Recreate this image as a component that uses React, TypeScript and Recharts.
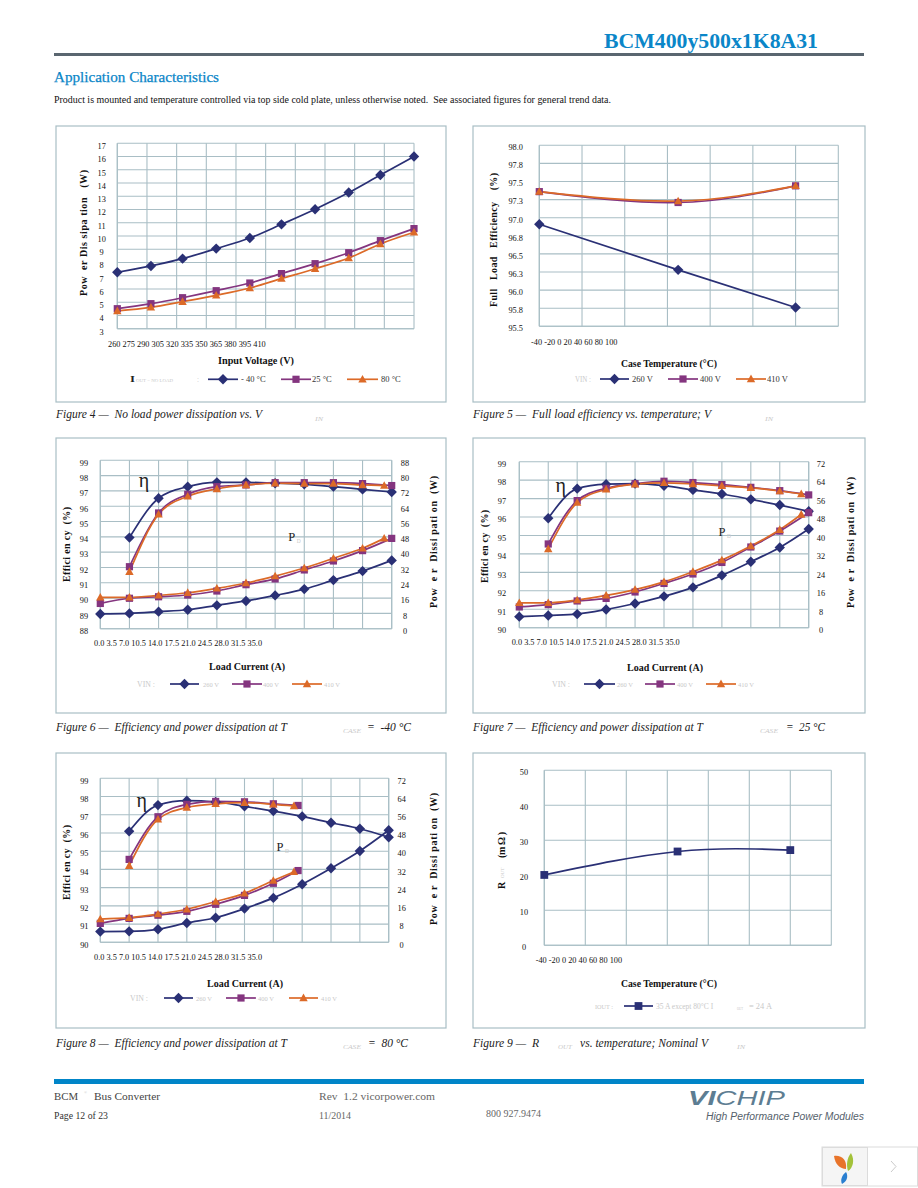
import { CartesianGrid, Legend, Line, LineChart, XAxis, YAxis } from 'recharts';

// ---------------------------------------------------------------------------
// Data
// ---------------------------------------------------------------------------

const inputVoltage = [260, 277, 293, 310, 327, 343, 360, 377, 393, 410];
const voltageTicks = [260, 275, 290, 305, 320, 335, 350, 365, 380, 395, 410];
const fig4Cold = [7.26, 7.74, 8.29, 9.05, 9.85, 10.88, 12.02, 13.28, 14.61, 16.0];
const fig4Room = [4.51, 4.89, 5.34, 5.87, 6.45, 7.16, 7.91, 8.74, 9.65, 10.56];
const fig4Hot = [4.34, 4.61, 5.04, 5.52, 6.07, 6.78, 7.53, 8.34, 9.4, 10.28];
const fig4YTicks = [3, 4, 5, 6, 7, 8, 9, 10, 11, 12, 13, 14, 15, 16, 17];

const caseTemp = [-40, 25, 80];
const tempTicks = [-40, -20, 0, 20, 40, 60, 80, 100];
const fig5Low = [96.91, 96.28, 95.76];
const fig5Nom = [97.36, 97.21, 97.44];
const fig5High = [97.36, 97.23, 97.44];
const fig5YTicks = [95.5, 95.75, 96, 96.25, 96.5, 96.75, 97, 97.25, 97.5, 97.75, 98];

const loadTicks = [0, 3.5, 7, 10.5, 14, 17.5, 21, 24.5, 28, 31.5, 35];
const loadFrom7 = loadTicks.slice(1);

const fig6EffLow = [93.95, 96.52, 97.28, 97.56, 97.56, 97.5, 97.43, 97.28, 97.1, 96.93];
const fig6EffNom = [92.05, 95.56, 96.78, 97.28, 97.39, 97.54, 97.54, 97.54, 97.48, 97.35];
const fig6EffHigh = [91.72, 95.47, 96.65, 97.13, 97.39, 97.5, 97.48, 97.48, 97.39, 97.35];
const fig6PdLow = [7.7, 8, 8.9, 9.9, 12.2, 14.5, 17.4, 20.7, 25.4, 30.1, 35.7];
const fig6PdNom = [13.2, 15.9, 16.7, 17.6, 19.7, 23, 26, 30.7, 35.4, 40.8, 47.2];
const fig6PdHigh = [16.4, 16.4, 17.4, 18.8, 21.1, 23.9, 27.5, 31.7, 36.8, 42, 47.2];
const fig6EffTicks = [88, 89, 90, 91, 92, 93, 94, 95, 96, 97, 98, 99];
const fig6PdTicks = [0, 8, 16, 24, 32, 40, 48, 56, 64, 72, 80, 88];

const fig7EffLow = [95.93, 97.54, 97.78, 97.81, 97.7, 97.47, 97.25, 96.96, 96.65, 96.31];
const fig7EffNom = [94.54, 96.89, 97.56, 97.81, 97.94, 97.87, 97.76, 97.61, 97.43, 97.2];
const fig7EffHigh = [94.27, 96.78, 97.5, 97.78, 97.85, 97.79, 97.69, 97.58, 97.41, 97.25];
const fig7PdLow = [4.8, 5.3, 5.9, 7.9, 10.5, 13.6, 17.5, 22.7, 28.6, 34.8, 42.8];
const fig7PdNom = [9, 10, 11.6, 12.7, 15.5, 19.2, 23.3, 28.3, 35, 41.9, 49.9];
const fig7PdHigh = [10.8, 10.8, 12, 14, 16.5, 19.9, 24.3, 29.3, 35.4, 42.5, 49.1];
const effTicks = [90, 91, 92, 93, 94, 95, 96, 97, 98, 99];
const pdTicks = [0, 8, 16, 24, 32, 40, 48, 56, 64, 72];

const fig8EffLow = [96.09, 97.53, 97.77, 97.7, 97.46, 97.2, 96.91, 96.56, 96.23, 95.76];
const fig8EffNom = [94.55, 96.89, 97.57, 97.73, 97.71, 97.6, 97.51];
const fig8EffHigh = [94.2, 96.75, 97.4, 97.6, 97.66, 97.57, 97.48];
const fig8PdLow = [4.7, 4.8, 5.7, 8.5, 10.8, 14.8, 19.5, 25.5, 32.5, 40.1, 49.2];
const fig8PdNom = [8.3, 10.5, 11.9, 13.6, 16.7, 20.6, 25.9, 31.5];
const fig8PdHigh = [10.2, 10.8, 12.4, 14.5, 17.9, 21.5, 27.1, 30.9];
const fig8LoadNomEff = [3.5, 7, 10.5, 14, 17.5, 21, 24];
const fig8LoadHighEff = [3.5, 7, 10.5, 14, 17.5, 21, 23.5];
const fig8LoadNomPd = [0, 3.5, 7, 10.5, 14, 17.5, 21, 24];
const fig8LoadHighPd = [0, 3.5, 7, 10.5, 14, 17.5, 21, 23.5];

const fig9Rout = [20.1, 26.8, 27.2];
const fig9YTicks = [0, 10, 20, 30, 40, 50];

// last 410 V point of figures 6 and 7 stops just short of 35 A
const loadHighEff = [3.5, 7, 10.5, 14, 17.5, 21, 24.5, 28, 31.5, 34.1];
const loadHighPd = [0, 3.5, 7, 10.5, 14, 17.5, 21, 24.5, 28, 31.5, 34.1];

// ---------------------------------------------------------------------------
// Styles
// ---------------------------------------------------------------------------

const SERIF = '"Liberation Serif", serif';
const NAVY = '#2a3075';
const PURPLE = '#84357f';
const ORANGE = '#dc6a28';
const GRID = '#a9bec5';
const BLUE = '#0a86c8';
const PALE = '#c9c9c9';

type Shape = 'diamond' | 'square' | 'triangle';

function markPath(shape: Shape, cx: number, cy: number, big = false) {
  if (shape === 'diamond') {
    const r = 5.2;
    return `M${cx} ${cy - r}L${cx + r} ${cy}L${cx} ${cy + r}L${cx - r} ${cy}Z`;
  }
  if (shape === 'square') {
    const r = big ? 3.9 : 3.6;
    return `M${cx - r} ${cy - r}H${cx + r}V${cy + r}H${cx - r}Z`;
  }
  return `M${cx} ${cy - 4.4}L${cx + 4.2} ${cy + 3.2}H${cx - 4.2}Z`;
}

const zip = (xs: number[], ys: number[]) => xs.map((x, i) => ({ x, y: ys[i] }));

// width of a string in em, Liberation Serif digits
function emWidth(s: string) {
  let w = 0;
  for (const c of s) w += c >= '0' && c <= '9' ? 0.5 : c === '-' ? 0.333 : 0.25;
  return w;
}

// ---------------------------------------------------------------------------
// One figure
// ---------------------------------------------------------------------------

type Series = {
  name: string;
  color: string;
  shape: Shape;
  xs: number[];
  ys: number[];
  axis?: string;
  hideLegend?: boolean;
  big?: boolean;
};

type FigureProps = {
  frame: number[];
  plot: number[];
  xTicks: number[];
  xLabels: string[];
  xStart: number;
  xLabelY: number;
  yDomain: number[];
  yTicks: number[];
  yLabelX: number;
  yFormat?: (v: number) => string;
  yShift?: number;
  right?: { domain: number[]; ticks: number[]; labelX: number };
  series: Series[];
  curve?: 'monotone' | 'natural';
  legendY: number;
  legendSlots: number[][];
  legendColor: string;
  legendSize: number;
};

const TICK_FONT = 8.3;
const LINE_W = 1.7;

function Figure(p: FigureProps) {
  const [fx, fy, fw, fh] = p.frame;
  const [l, t, r, b] = p.plot;
  const shift = p.yShift ?? 2.5;
  const yTick = (labelX: number, fmt: (v: number) => string) => (props: any) => (
    <text
      key={props.index}
      x={labelX - fx}
      y={props.y + shift + 2.8}
      textAnchor="middle"
      fontFamily={SERIF}
      fontSize={TICK_FONT}
      fill="#111"
    >
      {fmt(props.payload.value)}
    </text>
  );
  const xTick = (props: any) => {
    const i = p.xTicks.indexOf(props.payload.value);
    const before = p.xLabels.slice(0, i).join(' ') + (i > 0 ? ' ' : '');
    return (
      <text
        key={props.index}
        x={p.xStart - fx + emWidth(before) * TICK_FONT}
        y={p.xLabelY - fy + 2.8}
        fontFamily={SERIF}
        fontSize={TICK_FONT}
        fill="#111"
      >
        {p.xLabels[i]}
      </text>
    );
  };
  const fmt = p.yFormat ?? ((v: number) => String(v));

  return (
    <div style={{ position: 'absolute', left: fx, top: fy }}>
      <LineChart
        width={fw}
        height={fh}
        margin={{
          left: l - fx - 20,
          top: t - fy,
          right: fx + fw - r - (p.right ? 20 : 0),
          bottom: fy + fh - b - 20,
        }}
      >
        <CartesianGrid yAxisId="left" stroke={GRID} strokeWidth={1.1} />
        <XAxis
          dataKey="x"
          type="number"
          domain={[p.xTicks[0], p.xTicks[p.xTicks.length - 1]]}
          ticks={p.xTicks}
          interval={0}
          height={20}
          tickLine={false}
          axisLine={{ stroke: GRID, strokeWidth: 1.1 }}
          tick={xTick}
        />
        <YAxis
          yAxisId="left"
          width={20}
          domain={p.yDomain}
          ticks={p.yTicks}
          interval={0}
          tickLine={false}
          axisLine={{ stroke: GRID, strokeWidth: 1.1 }}
          tick={yTick(p.yLabelX, fmt)}
        />
        {p.right && (
          <YAxis
            yAxisId="right"
            orientation="right"
            width={20}
            domain={p.right.domain}
            ticks={p.right.ticks}
            interval={0}
            tickLine={false}
            axisLine={{ stroke: GRID, strokeWidth: 1.1 }}
            tick={yTick(p.right.labelX, fmt)}
          />
        )}
        {p.series.map((s, i) => (
          <Line
            key={i}
            yAxisId={s.axis ?? 'left'}
            data={zip(s.xs, s.ys)}
            dataKey="y"
            name={s.name}
            type={p.curve ?? 'monotone'}
            stroke={s.color}
            strokeWidth={LINE_W}
            isAnimationActive={false}
            legendType={s.hideLegend ? 'none' : 'line'}
            dot={(d: any) => (
              <path key={d.index} d={markPath(s.shape, d.cx, d.cy, s.big)} fill={s.color} />
            )}
          />
        ))}
        <Legend
          wrapperStyle={{ position: 'absolute', left: 0, top: 0, width: 0, height: 0, overflow: 'visible' }}
          content={() => {
            const shown = p.series.filter((s) => !s.hideLegend);
            const y = p.legendY - fy;
            return (
              <svg width={1} height={1} style={{ position: 'absolute', left: 0, top: 0, overflow: 'visible' }}>
                {shown.map((s, i) => {
                  const [x0, x1, tx] = p.legendSlots[i];
                  return (
                    <g key={s.name}>
                      <line x1={x0 - fx} x2={x1 - fx} y1={y} y2={y} stroke={s.color} strokeWidth={LINE_W} />
                      <path d={markPath(s.shape, (x0 + x1) / 2 - fx, y, s.big)} fill={s.color} />
                      <text
                        x={tx - fx}
                        y={y + 2.8}
                        fontFamily={SERIF}
                        fontSize={p.legendSize}
                        fill={p.legendColor}
                      >
                        {s.name}
                      </text>
                    </g>
                  );
                })}
              </svg>
            );
          }}
        />
      </LineChart>
    </div>
  );
}

// ---------------------------------------------------------------------------
// Page furniture
// ---------------------------------------------------------------------------

function T({ x, y, w, size = 10, ...rest }: any) {
  return (
    <text
      x={x}
      y={y}
      fontSize={size}
      fontFamily={SERIF}
      textLength={w}
      lengthAdjust="spacingAndGlyphs"
      style={{ whiteSpace: 'pre' }}
      {...rest}
    />
  );
}

// rotated text running bottom to top between y0 and y1
function V({ x, y0, y1, size = 10, ...rest }: any) {
  const bx = x + size * 0.33;
  return (
    <text
      transform={`rotate(-90 ${bx} ${y1})`}
      x={bx}
      y={y1}
      fontSize={size}
      fontFamily={SERIF}
      fontWeight="bold"
      textLength={y1 - y0}
      lengthAdjust="spacing"
      fill="#111"
      style={{ whiteSpace: 'pre' }}
      {...rest}
    />
  );
}

const frames = [
  [56, 126, 390, 276],
  [473, 126, 392, 276],
  [56, 438, 390, 275],
  [473, 438, 392, 275],
  [56, 753, 390, 275],
  [473, 753, 392, 275],
];

const loadLabels = loadTicks.map((v) => v.toFixed(1));

function Page() {
  return (
    <svg width={918} height={1188} style={{ position: 'absolute', left: 0, top: 0 }}>
      <T x={604} y={48} w={214} size={21} fontWeight="bold" fill={BLUE}>BCM400y500x1K8A31</T>
      <rect x={54} y={53} width={810} height={3} fill="#5a6670" />
      <T x={54} y={82} w={165} size={14.5} fill={BLUE} stroke={BLUE} strokeWidth={0.25}>Application Characteristics</T>
      <T x={54} y={103} w={557} size={9.5} fill="#111">
        Product is mounted and temperature controlled via top side cold plate, unless otherwise noted.  See associated figures for general trend data.
      </T>

      {frames.map((f, i) => (
        <rect key={i} x={f[0]} y={f[1]} width={f[2]} height={f[3]} fill="none" stroke={GRID} strokeWidth={1.2} />
      ))}

      {/* figure 4 text */}
      <V x={84} y0={170} y1={296} size={10}>Pow  er Dis sipa tion   (W)</V>
      <T x={218} y={364} w={76} size={10} fontWeight="bold" fill="#111">Input Voltage (V)</T>
      <T x={130} y={382} w={5} size={9} fontWeight="bold" fill="#222">I</T>
      <T x={136} y={382} w={37} size={4.5} fill={PALE}>OUT = NO LOAD</T>
      <T x={197} y={382} w={2} size={9} fill={PALE}>:</T>
      <T x={56} y={418} w={206} size={11.5} fontStyle="italic" fill="#222">Figure 4 —  No load power dissipation vs. V</T>
      <T x={315} y={421} w={8} size={6} fontStyle="italic" fill={PALE}>IN</T>

      {/* figure 5 text */}
      <V x={494} y0={173} y1={307} size={10}>Full   Load   Efficiency    (%)</V>
      <T x={621} y={367} w={96} size={10} fontWeight="bold" fill="#111">Case Temperature (°C)</T>
      <T x={575} y={382} w={16} size={9} fill={PALE}>VIN :</T>
      <T x={473} y={418} w={238} size={11.5} fontStyle="italic" fill="#222">Figure 5 —  Full load efficiency vs. temperature; V</T>
      <T x={765} y={421} w={8} size={6} fontStyle="italic" fill={PALE}>IN</T>

      {/* figure 6 text */}
      <V x={66.7} y0={507} y1={582} size={10}>Effici en cy  (%)</V>
      <V x={434} y0={476} y1={608} size={10}>Pow  e r  Dissi pati on  (W)</V>
      <T x={209} y={670} w={76} size={10} fontWeight="bold" fill="#111">Load Current (A)</T>
      <T x={137} y={687} w={18} size={8} fill={PALE}>VIN :</T>
      <T x={56} y={731} w={231} size={11.5} fontStyle="italic" fill="#222">Figure 6 —  Efficiency and power dissipation at T</T>
      <T x={343} y={733} w={18} size={6} fontStyle="italic" fill={PALE}>CASE</T>
      <T x={367} y={731} w={44} size={11.5} fontStyle="italic" fill="#222">=  -40 °C</T>

      {/* figure 7 text */}
      <V x={485} y0={510} y1={583} size={10}>Effici en cy  (%)</V>
      <V x={851} y0={477} y1={608} size={10}>Pow  e r  Dissi pati on  (W)</V>
      <T x={627} y={671} w={76} size={10} fontWeight="bold" fill="#111">Load Current (A)</T>
      <T x={552} y={687} w={18} size={8} fill={PALE}>VIN :</T>
      <T x={473} y={731} w={230} size={11.5} fontStyle="italic" fill="#222">Figure 7 —  Efficiency and power dissipation at T</T>
      <T x={760} y={733} w={18} size={6} fontStyle="italic" fill={PALE}>CASE</T>
      <T x={786} y={731} w={39} size={11.5} fontStyle="italic" fill="#222">=  25 °C</T>

      {/* figure 8 text */}
      <V x={66.7} y0={825} y1={900} size={10}>Effici en cy  (%)</V>
      <V x={434} y0={793} y1={925} size={10}>Pow  e r  Dissi pati on  (W)</V>
      <T x={207} y={987} w={76} size={10} fontWeight="bold" fill="#111">Load Current (A)</T>
      <T x={130} y={1001} w={18} size={8} fill={PALE}>VIN :</T>
      <T x={56} y={1047} w={231} size={11.5} fontStyle="italic" fill="#222">Figure 8 —  Efficiency and power dissipation at T</T>
      <T x={343} y={1049} w={18} size={6} fontStyle="italic" fill={PALE}>CASE</T>
      <T x={368} y={1047} w={40} size={11.5} fontStyle="italic" fill="#222">=  80 °C</T>

      {/* figure 9 text */}
      <V x={502} y0={880} y1={889}>R</V>
      <text transform="rotate(-90 504 878)" x={504} y={878} fontFamily={SERIF} fontSize={5} fill={PALE}>OUT</text>
      <V x={502} y0={832} y1={858}>(m Ω )</V>
      <T x={621} y={987} w={96} size={10} fontWeight="bold" fill="#111">Case Temperature (°C)</T>
      <T x={595} y={1009} w={18} size={7} fill={PALE}>IOUT :</T>
      <T x={737} y={1010} w={6} size={5} fill={PALE}>OUT</T>
      <T x={749} y={1009} w={23} size={7.5} fill={PALE}>= 24 A</T>
      <T x={473} y={1047} w={66} size={11.5} fontStyle="italic" fill="#222">Figure 9 —  R</T>
      <T x={558} y={1049} w={14} size={6} fontStyle="italic" fill={PALE}>OUT</T>
      <T x={580} y={1047} w={128} size={11.5} fontStyle="italic" fill="#222">vs. temperature; Nominal V</T>
      <T x={737} y={1049} w={8} size={6} fontStyle="italic" fill={PALE}>IN</T>

      {/* footer */}
      <rect x={54} y={1079} width={810} height={5} fill="#0085c8" />
      <T x={54} y={1100} w={24} size={10} fill="#444">BCM</T>
      <T x={84} y={1094} w={3} size={5} fill={PALE}>®</T>
      <T x={94} y={1100} w={66} size={10} fill="#444">Bus Converter</T>
      <T x={319} y={1100} w={116} size={10} fill="#666">Rev  1.2 vicorpower.com</T>
      <T x={54} y={1119} w={54} size={9.5} fill="#333">Page 12 of 23</T>
      <T x={319} y={1119} w={32} size={9.5} fill="#666">11/2014</T>
      <T x={486} y={1117} w={55} size={9.5} fill="#666">800 927.9474</T>
      <text x={688} y={1105} fontFamily="Liberation Sans" fontStyle="italic" fontSize={20} fill="#5d7d92" textLength={97} lengthAdjust="spacingAndGlyphs">
        <tspan fontWeight="bold">VI</tspan>CHIP
      </text>
      <text x={706} y={1120} fontFamily="Liberation Sans" fontStyle="italic" fontSize={10} fill="#55616b" textLength={158} lengthAdjust="spacingAndGlyphs">
        High Performance Power Modules
      </text>

      {/* viewer widget */}
      <rect x={822} y={1147} width={95.5} height={39} fill="#fff" stroke="#dcdcdc" />
      <rect x={822.5} y={1147.5} width={45} height={38} fill="#f5f5f5" stroke="#dcdcdc" />
      <path d="M834 1156C842 1155 847 1160 846 1169C840 1169 835 1164 834 1156Z" fill="#e8742a" />
      <path d="M851 1153C855 1160 853 1168 848 1171C846 1165 847 1158 851 1153Z" fill="#a3c23a" />
      <path d="M846 1172C849 1177 846 1182 842 1184C840 1180 842 1175 846 1172Z" fill="#2a7fd0" />
      <path d="M891 1161L896 1166.500L891 1172" fill="none" stroke="#bdbdbd" strokeWidth={0.8} />
    </svg>
  );
}

// small labels that sit in the plots
function Notes() {
  const eta = (x: number, y: number) => (
    <text x={x} y={y} fontFamily="Liberation Serif" fontSize={20} fill="#222" textAnchor="middle">η</text>
  );
  const pd = (x: number, y: number) => (
    <g>
      <text x={x} y={y} fontFamily={SERIF} fontSize={12.5} fill="#222" textAnchor="middle">P</text>
      <text x={x + 5} y={y + 2} fontFamily={SERIF} fontSize={5.5} fill={PALE}>D</text>
    </g>
  );
  return (
    <svg width={918} height={1188} style={{ position: 'absolute', left: 0, top: 0, pointerEvents: 'none' }}>
      {eta(144, 487)}
      {pd(291.7, 541)}
      {eta(560.7, 492)}
      {pd(722, 536)}
      {eta(141.7, 807)}
      {pd(280, 851)}
    </svg>
  );
}

export default function App() {
  const tempLabels = tempTicks.map(String);
  return (
    <div style={{ position: 'absolute', left: 0, top: 0, width: 918, height: 1188, background: '#fff', overflow: 'hidden' }}>
      <Page />

      <Figure
        frame={frames[0]}
        plot={[117.3, 143.3, 414, 328.7]}
        xTicks={voltageTicks}
        xLabels={voltageTicks.map(String)}
        xStart={108}
        xLabelY={344}
        yDomain={[3, 17]}
        yTicks={fig4YTicks}
        yLabelX={101.7}
        yShift={3}
        series={[
          { name: '- 40 °C', color: NAVY, shape: 'diamond', xs: inputVoltage, ys: fig4Cold },
          { name: '25 °C', color: PURPLE, shape: 'square', xs: inputVoltage, ys: fig4Room },
          { name: '80 °C', color: ORANGE, shape: 'triangle', xs: inputVoltage, ys: fig4Hot },
        ]}
        legendY={379.3}
        legendSlots={[[208, 238, 241], [281, 311, 312], [347, 378, 381]]}
        legendColor="#333"
        legendSize={8.5}
      />

      <Figure
        frame={frames[1]}
        plot={[539.3, 145.3, 838.3, 326.3]}
        xTicks={tempTicks}
        xLabels={tempLabels}
        xStart={531}
        xLabelY={342}
        yDomain={[95.5, 98]}
        yTicks={fig5YTicks}
        yFormat={(v) => v.toFixed(1)}
        yLabelX={515.7}
        yShift={2}
        curve="natural"
        series={[
          { name: '260 V', color: NAVY, shape: 'diamond', xs: caseTemp, ys: fig5Low },
          { name: '400 V', color: PURPLE, shape: 'square', xs: caseTemp, ys: fig5Nom },
          { name: '410 V', color: ORANGE, shape: 'triangle', xs: caseTemp, ys: fig5High },
        ]}
        legendY={379}
        legendSlots={[[600, 629, 632], [668, 698, 700], [736, 766, 767]]}
        legendColor="#333"
        legendSize={8.5}
      />

      <Figure
        frame={frames[2]}
        plot={[100.3, 460.3, 391.7, 628.7]}
        xTicks={loadTicks}
        xLabels={loadLabels}
        xStart={94}
        xLabelY={643}
        yDomain={[88, 99]}
        yTicks={fig6EffTicks}
        yLabelX={84}
        right={{ domain: [0, 88], ticks: fig6PdTicks, labelX: 405 }}
        series={[
          { name: '260 V', color: NAVY, shape: 'diamond', xs: loadFrom7, ys: fig6EffLow },
          { name: '400 V', color: PURPLE, shape: 'square', xs: loadFrom7, ys: fig6EffNom },
          { name: '410 V', color: ORANGE, shape: 'triangle', xs: loadHighEff, ys: fig6EffHigh },
          { name: '260 V pd', color: NAVY, shape: 'diamond', xs: loadTicks, ys: fig6PdLow, axis: 'right', hideLegend: true },
          { name: '400 V pd', color: PURPLE, shape: 'square', xs: loadTicks, ys: fig6PdNom, axis: 'right', hideLegend: true },
          { name: '410 V pd', color: ORANGE, shape: 'triangle', xs: loadHighPd, ys: fig6PdHigh, axis: 'right', hideLegend: true },
        ]}
        legendY={684}
        legendSlots={[[170, 199, 203], [232, 262, 263], [292, 322, 324]]}
        legendColor={PALE}
        legendSize={6.5}
      />

      <Figure
        frame={frames[3]}
        plot={[519.3, 461.7, 808.7, 627.7]}
        xTicks={loadTicks}
        xLabels={loadLabels}
        xStart={511.7}
        xLabelY={642}
        yDomain={[90, 99]}
        yTicks={effTicks}
        yLabelX={502}
        right={{ domain: [0, 72], ticks: pdTicks, labelX: 821 }}
        series={[
          { name: '260 V', color: NAVY, shape: 'diamond', xs: loadFrom7, ys: fig7EffLow },
          { name: '400 V', color: PURPLE, shape: 'square', xs: loadFrom7, ys: fig7EffNom },
          { name: '410 V', color: ORANGE, shape: 'triangle', xs: loadHighEff, ys: fig7EffHigh },
          { name: '260 V pd', color: NAVY, shape: 'diamond', xs: loadTicks, ys: fig7PdLow, axis: 'right', hideLegend: true },
          { name: '400 V pd', color: PURPLE, shape: 'square', xs: loadTicks, ys: fig7PdNom, axis: 'right', hideLegend: true },
          { name: '410 V pd', color: ORANGE, shape: 'triangle', xs: loadHighPd, ys: fig7PdHigh, axis: 'right', hideLegend: true },
        ]}
        legendY={684}
        legendSlots={[[584, 615, 617], [645, 675, 677], [706, 736, 738]]}
        legendColor={PALE}
        legendSize={6.5}
      />

      <Figure
        frame={frames[4]}
        plot={[100.3, 778.3, 388.7, 942.3]}
        xTicks={loadTicks}
        xLabels={loadLabels}
        xStart={94}
        xLabelY={957}
        yDomain={[90, 99]}
        yTicks={effTicks}
        yLabelX={84.3}
        right={{ domain: [0, 72], ticks: pdTicks, labelX: 401.7 }}
        series={[
          { name: '260 V', color: NAVY, shape: 'diamond', xs: loadFrom7, ys: fig8EffLow },
          { name: '400 V', color: PURPLE, shape: 'square', xs: fig8LoadNomEff, ys: fig8EffNom },
          { name: '410 V', color: ORANGE, shape: 'triangle', xs: fig8LoadHighEff, ys: fig8EffHigh },
          { name: '260 V pd', color: NAVY, shape: 'diamond', xs: loadTicks, ys: fig8PdLow, axis: 'right', hideLegend: true },
          { name: '400 V pd', color: PURPLE, shape: 'square', xs: fig8LoadNomPd, ys: fig8PdNom, axis: 'right', hideLegend: true },
          { name: '410 V pd', color: ORANGE, shape: 'triangle', xs: fig8LoadHighPd, ys: fig8PdHigh, axis: 'right', hideLegend: true },
        ]}
        legendY={998}
        legendSlots={[[164, 193, 196], [226, 256, 258], [289, 318, 321]]}
        legendColor={PALE}
        legendSize={6.5}
      />

      <Figure
        frame={frames[5]}
        plot={[544.3, 770.3, 831.3, 945.3]}
        xTicks={tempTicks}
        xLabels={tempLabels}
        xStart={535.7}
        xLabelY={960}
        yDomain={[0, 50]}
        yTicks={fig9YTicks}
        yLabelX={524}
        yShift={1.5}
        curve="natural"
        series={[
          { name: '35 A except 80°C I', color: NAVY, shape: 'square', xs: caseTemp, ys: fig9Rout, big: true },
        ]}
        legendY={1006}
        legendSlots={[[624, 653, 656]]}
        legendColor={PALE}
        legendSize={7.5}
      />

      <Notes />
    </div>
  );
}
